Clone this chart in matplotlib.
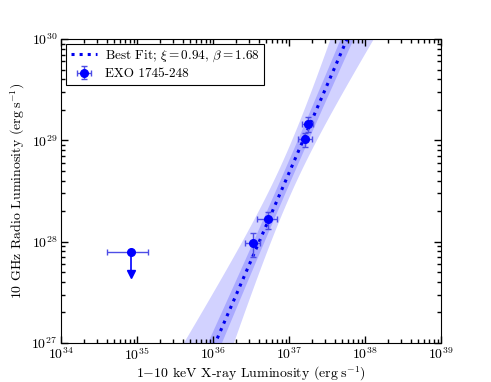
import numpy as np
import matplotlib
matplotlib.use("Agg")
import matplotlib.pyplot as plt

plt.rcParams['font.family'] = 'serif'
plt.rcParams['font.serif'] = ['cmr10', 'DejaVu Serif']
plt.rcParams['mathtext.fontset'] = 'cm'
plt.rcParams['axes.formatter.use_mathtext'] = True
plt.rcParams['axes.unicode_minus'] = False

# Detections
lx = [3.4e36, 5.3e36, 1.62e37, 1.78e37]
lx_lo = [2.6e36, 3.8e36, 1.32e37, 1.48e37]
lx_hi = [4.2e36, 6.9e36, 2.0e37, 2.1e37]
lr = [9.6e27, 1.67e28, 1.02e29, 1.45e29]
lr_lo = [7.1e27, 1.32e28, 8.5e28, 1.2e29]
lr_hi = [1.22e28, 1.95e28, 1.17e29, 1.70e29]

# Upper limit
ul_x = 8.3e34
ul_x_lo = 4.0e34
ul_x_hi = 1.4e35
ul_y = 7.9e27
ul_arrow = 3.1e27

# Fit line (log LR = fit_b + fit_slope * (log LX - fit_x0)) and bands
fit_x0 = 36.03
fit_b = 27.0
fit_slope = 1.73
band_xc = 36.98
outer_a, outer_b = 0.25, 0.49
inner_a, inner_b = 0.12, 0.11

fig = plt.figure(figsize=(4.91, 3.82), dpi=100)
ax = fig.add_axes([61/491, 1-343/382, 380/491, 304/382])

xs = np.linspace(34, 39, 400)
ly = fit_b + fit_slope * (xs - fit_x0)
hw_out = np.sqrt(outer_a**2 + outer_b**2 * (xs - band_xc)**2)
hw_in = np.sqrt(inner_a**2 + inner_b**2 * (xs - band_xc)**2)
ax.fill_between(10**xs, 10**(ly - hw_out), 10**(ly + hw_out), color=(0.2, 0.2, 1.0), alpha=0.22, lw=0)
ax.fill_between(10**xs, 10**(ly - hw_in), 10**(ly + hw_in), color=(0.2, 0.2, 1.0), alpha=0.25, lw=0)
ax.plot(10**xs, 10**ly, ls=':', color='#0000ee', lw=2.2,
        label=r"Best Fit; $\xi = 0.94$, $\beta = 1.68$")

lx_a = np.array(lx); lr_a = np.array(lr)
xerr = [lx_a - np.array(lx_lo), np.array(lx_hi) - lx_a]
yerr = [lr_a - np.array(lr_lo), np.array(lr_hi) - lr_a]
ax.errorbar(lx, lr, xerr=xerr, yerr=yerr, fmt='o', color='blue', ms=5.5,
            ecolor=(0.3, 0.3, 0.9), elinewidth=1, capsize=2.5, capthick=1,
            label='EXO 1745-248')
ax.errorbar([ul_x], [ul_y], xerr=[[ul_x - ul_x_lo], [ul_x_hi - ul_x]], fmt='o', color='blue', ms=5.5,
            ecolor=(0.3, 0.3, 0.9), elinewidth=1, capsize=2.5, capthick=1)
ax.errorbar([ul_x], [ul_y], yerr=[[ul_arrow], [0]], fmt='none',
            ecolor='blue', elinewidth=1.2)
ax.plot([ul_x], [ul_y - ul_arrow], marker='v', color='blue', ms=6, ls='none')

ax.set_xscale('log')
ax.set_yscale('log')
ax.set_xlim(1e34, 1e39)
ax.set_ylim(1e27, 1e30)
ax.tick_params(which='both', direction='in', top=True, right=True, labelsize=10, pad=2.5)
ax.tick_params(which='major', length=5, width=1)
ax.tick_params(which='minor', length=3, width=1)
ax.set_xlabel(r"1$-$10 keV X-ray Luminosity (erg$\;$s$^{-1}$)", fontsize=10, labelpad=1)
ax.set_ylabel(r"10 GHz Radio Luminosity (erg$\;$s$^{-1}$)", fontsize=10, labelpad=3)

leg = ax.legend(loc='upper left', fontsize=9.5, fancybox=False, edgecolor='black',
                framealpha=1, borderaxespad=0.4, handlelength=2.0, numpoints=1,
                borderpad=0.35, labelspacing=0.3, handletextpad=0.6)
leg.get_frame().set_linewidth(0.8)

fig.savefig('out.png', dpi=100)
